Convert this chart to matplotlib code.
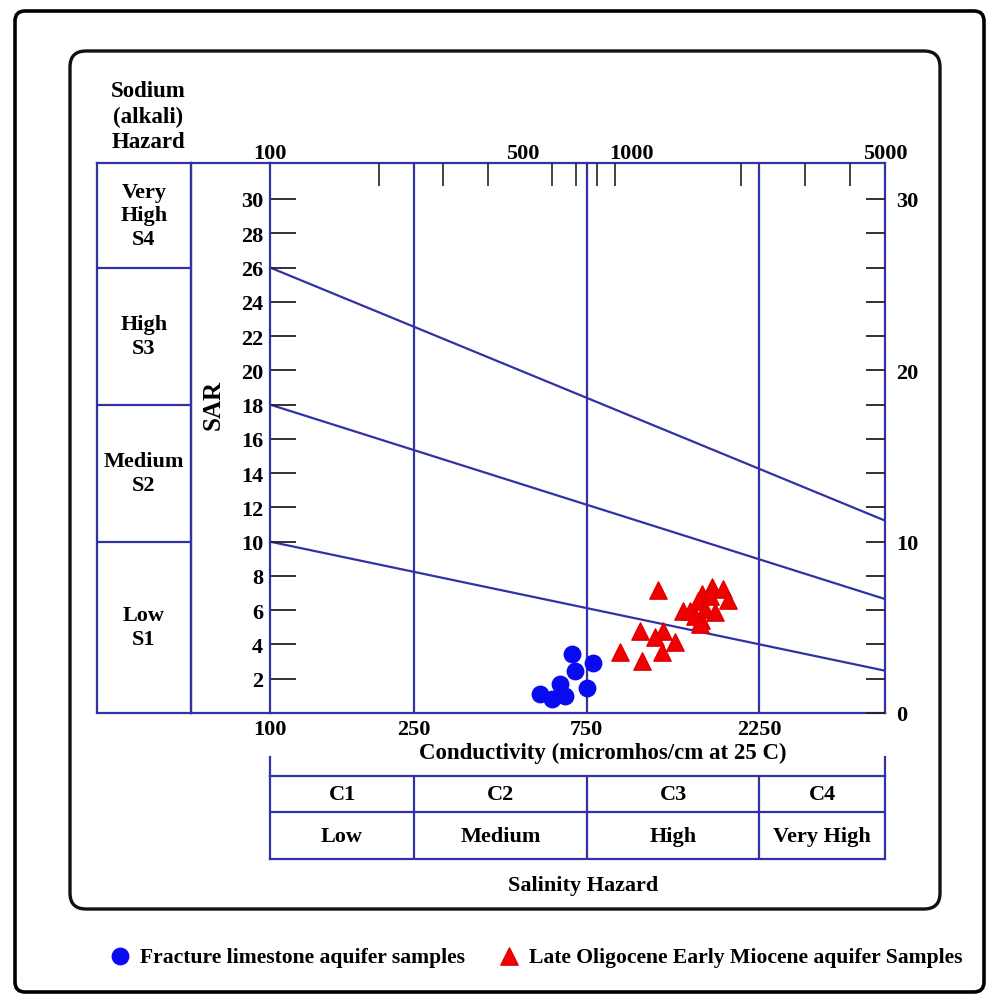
import matplotlib
matplotlib.use("Agg")
import matplotlib.pyplot as plt
from matplotlib.patches import FancyBboxPatch
from matplotlib.ticker import FixedLocator, FuncFormatter, NullFormatter, NullLocator

plt.rcParams["font.family"] = ["Liberation Serif", "DejaVu Serif"]
plt.rcParams["font.weight"] = "bold"

# ---- data -----------------------------------------------------------------
# Fracture limestone aquifer samples: EC (micromhos/cm) and SAR
lime_ec = [681, 782, 696, 633, 557, 600, 653, 750]
lime_sar = [3.44, 2.92, 2.47, 1.69, 1.11, 0.82, 1.01, 1.44]

# Late Oligocene - Early Miocene aquifer samples
mio_ec = [1180, 1052, 1218, 1158, 1315, 927, 1210, 1066,
          1384, 1664, 1784, 1842, 1561, 1522, 1643, 1446,
          1696, 1591, 1493, 1551, 1541]
mio_sar = [7.18, 4.79, 4.79, 4.44, 4.14, 3.56, 3.56, 3.04,
           5.95, 7.36, 7.24, 6.60, 6.95, 6.54, 6.83, 5.95,
           5.90, 6.07, 5.66, 5.43, 5.20]

# Salinity classes (conductivity bounds) and sodium classes (SAR at 100 / 5000)
ec_bounds = [100, 250, 750, 2250, 5000]
class_codes = ["C1", "C2", "C3", "C4"]
class_names = ["Low", "Medium", "High", "Very High"]
sodium_left = [10, 18, 26]
sodium_right = [2.47, 6.65, 11.23]
sodium_names = ["Low\nS1", "Medium\nS2", "High\nS3", "Very\nHigh\nS4"]

sar_ticks = list(range(2, 31, 2))
right_ticks = list(range(0, 31, 2))
top_labels = [100, 500, 1000, 5000]
top_minor = [200, 300, 400, 500, 600, 700, 800, 900, 1000, 2000, 3000, 4000]
bottom_labels = [100, 250, 750, 2250]

# ---- layout helpers ---------------------------------------------------------
W, H = 987, 995
BLUE = "#3232a4"
FS = 16

def rect(x0, y0, x1, y1):
    return [x0 / W, 1 - y1 / H, (x1 - x0) / W, (y1 - y0) / H]

fig = plt.figure(figsize=(W / 100, H / 100), dpi=100)

bg = fig.add_axes([0, 0, 1, 1])
bg.set_xlim(0, W)
bg.set_ylim(H, 0)
bg.axis("off")
bg.add_patch(FancyBboxPatch((15, 12), 969, 981,
                            boxstyle="round,pad=0,rounding_size=10",
                            fill=False, lw=2.6, ec="black"))
bg.add_patch(FancyBboxPatch((70, 52), 870, 858,
                            boxstyle="round,pad=0,rounding_size=16",
                            fill=False, lw=2.4, ec="#111111"))

YMAX = 32.1
TOP, BOT = 164, 714

# ---- main diagram -----------------------------------------------------------
ax = fig.add_axes(rect(270, TOP, 885, BOT))
ax.set_facecolor("none")
ax.set_xscale("log")
ax.set_xlim(ec_bounds[0], ec_bounds[-1])
ax.set_ylim(0, YMAX)
for s in ax.spines.values():
    s.set_color(BLUE)
    s.set_linewidth(1.6)

for c in ec_bounds[1:-1]:
    ax.axvline(c, color=BLUE, lw=1.6, zorder=1)
for yl, yr in zip(sodium_left, sodium_right):
    ax.plot([ec_bounds[0], ec_bounds[-1]], [yl, yr], color=BLUE, lw=1.6, zorder=1)

h1 = ax.scatter(lime_ec, lime_sar, s=140, marker="o", color="#0a0af0",
                edgecolors="#0a0af0", zorder=4, clip_on=False,
                label="Fracture limestone aquifer samples")
h2 = ax.scatter(mio_ec, mio_sar, s=155, marker="^", color="#f00000",
                edgecolors="#e00000", zorder=3, clip_on=False,
                label="Late Oligocene Early Miocene aquifer Samples")

ax.xaxis.set_major_locator(FixedLocator(bottom_labels))
ax.xaxis.set_minor_locator(NullLocator())
ax.xaxis.set_major_formatter(FuncFormatter(lambda v, p: f"{v:g}"))
ax.tick_params(axis="x", which="both", length=0, pad=4, labelsize=FS)
ax.yaxis.set_major_locator(FixedLocator(sar_ticks))
ax.tick_params(axis="y", direction="in", length=19, width=1.3,
               color="#222222", pad=5, labelsize=FS)

# top conductivity scale
axt = ax.twiny()
axt.set_xscale("log")
axt.set_xlim(ec_bounds[0], ec_bounds[-1])
axt.xaxis.set_major_locator(FixedLocator(top_labels))
axt.xaxis.set_major_formatter(FuncFormatter(lambda v, p: f"{v:g}"))
axt.xaxis.set_minor_locator(FixedLocator(top_minor))
axt.xaxis.set_minor_formatter(NullFormatter())
axt.tick_params(axis="x", which="major", length=0, pad=0, labelsize=FS)
axt.tick_params(axis="x", which="minor", direction="in", length=16.5,
                width=1.3, color="#333333")
for s in axt.spines.values():
    s.set_visible(False)

# right SAR scale
axr = ax.twinx()
axr.set_ylim(0, YMAX)
axr.yaxis.set_major_locator(FixedLocator(right_ticks))
axr.yaxis.set_major_formatter(
    FuncFormatter(lambda v, p: f"{v:g}" if v % 10 == 0 else ""))
axr.tick_params(axis="y", direction="in", length=14, width=1.3,
                color="#222222", pad=8, labelsize=FS)
for s in axr.spines.values():
    s.set_visible(False)

# ---- sodium hazard column ---------------------------------------------------
axs = fig.add_axes(rect(97, TOP, 191, BOT))
axs.set_ylim(0, YMAX)
axs.set_xlim(0, 1)
axs.set_xticks([])
axs.set_yticks([])
for s in axs.spines.values():
    s.set_color(BLUE)
    s.set_linewidth(1.6)
for b in sodium_left:
    axs.axhline(b, color=BLUE, lw=1.6)
edges = [0] + sodium_left + [YMAX]
for lo, hi, name in zip(edges[:-1], edges[1:], sodium_names):
    axs.text(0.5, (lo + hi) / 2, name, ha="center", va="center",
             fontsize=FS, linespacing=1.25)

axg = fig.add_axes(rect(191, TOP, 270, BOT))
axg.set_facecolor("none")
axg.set_ylim(0, YMAX)
axg.set_xticks([])
axg.set_yticks([])
for s in axg.spines.values():
    s.set_color(BLUE)
    s.set_linewidth(1.6)
axg.spines["right"].set_visible(False)
axs.set_zorder(0.5)
axg.set_zorder(0.6)
ax.set_zorder(1)
axt.set_zorder(1.1)
axr.set_zorder(1.2)

bg.text(148, 117, "Sodium\n(alkali)\nHazard", ha="center", va="center",
        fontsize=FS + 0.5, linespacing=1.25)
bg.text(213, 405, "SAR", ha="center", va="center", rotation=90,
        fontsize=FS + 2)
bg.text(603, 753, "Conductivity (micromhos/cm at 25 C)", ha="center",
        va="center", fontsize=FS + 0.5)

# ---- salinity hazard table --------------------------------------------------
axc = fig.add_axes(rect(270, 777, 885, 860))
axc.set_xscale("log")
axc.set_xlim(ec_bounds[0], ec_bounds[-1])
axc.set_ylim(0, 2)
axc.set_xticks([])
axc.set_yticks([])
axc.xaxis.set_minor_locator(NullLocator())
for s in axc.spines.values():
    s.set_color(BLUE)
    s.set_linewidth(1.6)
axc.axhline(1.13, color=BLUE, lw=1.6)
for c in ec_bounds[1:-1]:
    axc.axvline(c, color=BLUE, lw=1.6)
for c in (ec_bounds[0], ec_bounds[-1]):
    axc.plot([c, c], [2, 2.46], color=BLUE, lw=1.6, clip_on=False)
for lo, hi, code, name in zip(ec_bounds[:-1], ec_bounds[1:],
                              class_codes, class_names):
    mid = (lo * hi) ** 0.5
    axc.text(mid, 1.56, code, ha="center", va="center", fontsize=FS)
    axc.text(mid, 0.55, name, ha="center", va="center", fontsize=FS)

bg.text(583, 886, "Salinity Hazard", ha="center", va="center", fontsize=FS)

# ---- legend -----------------------------------------------------------------
fig.legend(handles=[h1, h2], loc="center left",
           bbox_to_anchor=(110 / W, 1 - 958 / H), ncol=2, frameon=False,
           handlelength=0.9, handletextpad=0.5, columnspacing=1.55,
           borderpad=0, borderaxespad=0, prop={"size": 15.6, "weight": "bold"})

fig.savefig("out.png", dpi=100)
